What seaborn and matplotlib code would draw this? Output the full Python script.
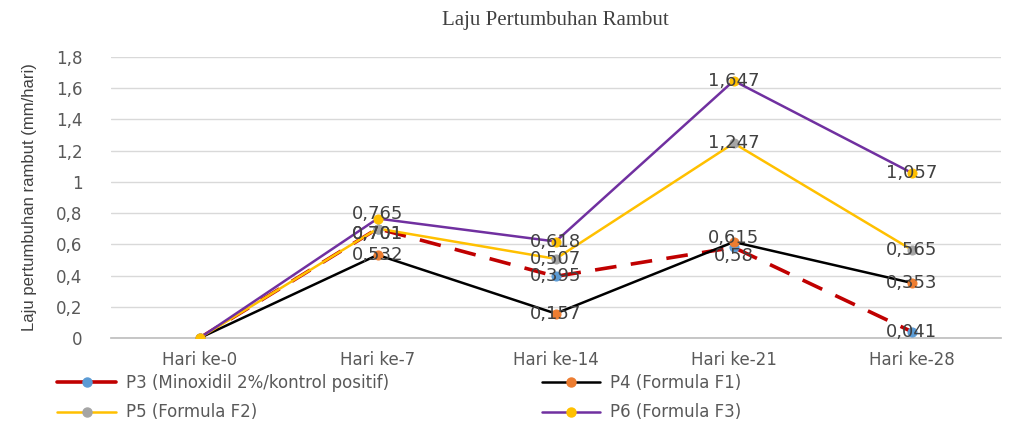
import numpy as np
import pandas as pd
import matplotlib
matplotlib.use("Agg")
import matplotlib.pyplot as plt
import seaborn as sns

# --- Data ---
days = ["Hari ke-0", "Hari ke-7", "Hari ke-14", "Hari ke-21", "Hari ke-28"]
p3_minoxidil = [0, 0.701, 0.395, 0.58, 0.041]
p4_f1 = [0, 0.532, 0.157, 0.615, 0.353]
p5_f2 = [0, 0.701, 0.507, 1.247, 0.565]
p6_f3 = [0, 0.765, 0.618, 1.647, 1.057]
series_names = [
    "P3 (Minoxidil 2%/kontrol positif)",
    "P4 (Formula F1)",
    "P5 (Formula F2)",
    "P6 (Formula F3)",
]
y_ticks = [0, 0.2, 0.4, 0.6, 0.8, 1.0, 1.2, 1.4, 1.6, 1.8]
y_tick_labels = ["0", "0,2", "0,4", "0,6", "0,8", "1", "1,2", "1,4", "1,6", "1,8"]

# --- Styles ---
styles = {
    series_names[0]: dict(color="#C00000", mfc="#5B9BD5", ls=(0, (6, 4)), lw=2.6),
    series_names[1]: dict(color="#000000", mfc="#ED7D31", ls="-", lw=1.8),
    series_names[2]: dict(color="#FFC000", mfc="#A5A5A5", ls="-", lw=1.8),
    series_names[3]: dict(color="#7030A0", mfc="#FFC000", ls="-", lw=1.8),
}
values = dict(zip(series_names, [p3_minoxidil, p4_f1, p5_f2, p6_f3]))

sns.set_theme(style="white")
plt.rcParams["font.family"] = ["DejaVu Sans"]

fig = plt.figure(figsize=(10.14, 4.21), dpi=100)
ax = fig.add_axes([0.109, 0.197, 0.878, 0.668])

handles = {}
for name in series_names:
    st = styles[name]
    df = pd.DataFrame({"x": np.arange(len(days)), "y": values[name]})
    sns.lineplot(data=df, x="x", y="y", ax=ax, color=st["color"], linewidth=st["lw"],
                 linestyle=st["ls"], marker="o", markersize=6.5, markerfacecolor=st["mfc"],
                 markeredgecolor=st["mfc"], sort=False, zorder=3)
    handles[name] = plt.Line2D([], [], color=st["color"], lw=st["lw"], marker="o",
                               markersize=6.5, markerfacecolor=st["mfc"],
                               markeredgecolor=st["mfc"])

# data labels (crowded ones nudged a little, as in the reference they nearly coincide)
nudge = {(series_names[0], 3): -0.055, (series_names[1], 3): 0.025,
         (series_names[0], 1): -0.035, (series_names[2], 1): -0.035,
         (series_names[3], 1): 0.03}
for name in series_names:
    for i, v in enumerate(values[name]):
        if v == 0:
            continue
        ax.text(i, v + nudge.get((name, i), 0), f"{v:g}".replace(".", ","),
                ha="center", va="center", fontsize=13, color="#404040", zorder=5)

ax.set_xlim(-0.5, len(days) - 0.5)
ax.set_ylim(0, 1.8)
ax.set_xticks(np.arange(len(days)))
ax.set_xticklabels(days)
ax.set_yticks(y_ticks)
ax.set_yticklabels(y_tick_labels)
ax.tick_params(axis="both", colors="#595959", labelsize=12, length=0)
ax.tick_params(axis="y", pad=20)
ax.tick_params(axis="x", pad=9)
ax.grid(axis="y", color="#D9D9D9", lw=1)
ax.set_xlabel("")
for s in ["top", "right", "left"]:
    ax.spines[s].set_visible(False)
ax.spines["bottom"].set_color("#BFBFBF")

ax.set_ylabel("Laju pertumbuhan rambut (mm/hari)", family=["Liberation Sans", "DejaVu Sans"],
              fontsize=12, color="#404040", labelpad=14)

fig.text(0.548, 0.952, "Laju Pertumbuhan Rambut", ha="center", va="center",
         family=["Liberation Serif"], fontsize=15, color="#404040")

order = [series_names[0], series_names[2], series_names[1], series_names[3]]
fig.legend([handles[n] for n in order], order, ncol=2, loc="upper left",
           bbox_to_anchor=(0.05, 0.128), frameon=False, fontsize=12,
           labelcolor="#595959", handlelength=3.5, columnspacing=9.2,
           handletextpad=0.6, labelspacing=0.7, borderaxespad=0)

fig.savefig("out.png", dpi=100)
